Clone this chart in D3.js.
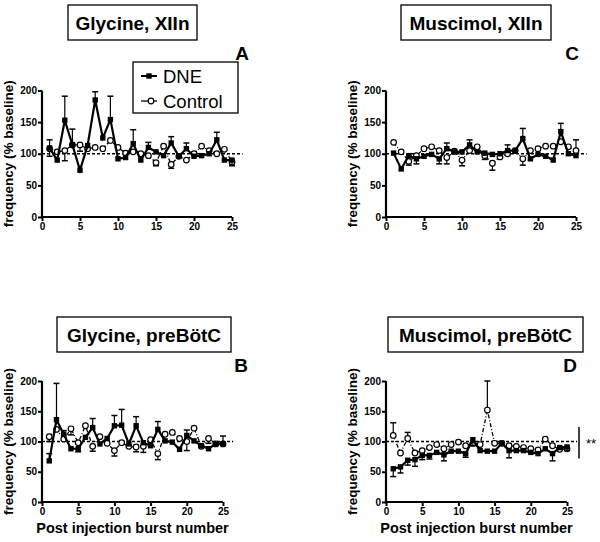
<!DOCTYPE html>
<html><head><meta charset="utf-8">
<script src="https://cdn.jsdelivr.net/npm/d3@7"></script>
<style>body{margin:0;background:#fff}svg{display:block}</style>
</head><body>
<svg id="c" width="600" height="542"></svg>
<script>
const bursts = [1,2,3,4,5,6,7,8,9,10,11,12,13,14,15,16,17,18,19,20,21,22,23,24,25];
const yTicks = [0,50,100,150,200];
const xTicks = [0,5,10,15,20,25];
const seriesNames = ["DNE","Control"];

// Panel A: Glycine, XIIn
const dneA    = [109,90,153,114,74,113,185,125,154,92,94,116,90,110,103,97,117,96,108,96,97,100,122,90,90];
const dneAErr = [13,0,38,25,0,0,13,0,37,0,0,22,0,8,0,0,10,0,9,0,0,0,12,0,-8];
const ctlA    = [108,103,105,114,114,108,110,108,121,110,101,103,100,97,86,112,83,96,90,100,112,105,100,107,87];
const ctlAErr = [-12,0,-16,0,-10,0,0,0,0,0,0,0,0,0,-5,0,-6,0,0,0,0,0,0,0,-6];
// Panel B: Glycine, preBötC
const dneB    = [68,136,112,88,88,107,123,96,105,126,127,96,126,98,93,120,101,99,87,110,101,93,88,96,96];
const dneBErr = [12,60,6,0,-5,0,15,0,0,17,26,0,15,0,0,13,0,0,0,9,0,0,0,0,13];
const ctlB    = [108,120,104,121,98,126,92,108,97,85,98,92,91,92,103,80,112,115,105,100,122,92,105,96,96];
const ctlBErr = [-8,0,0,-10,0,0,-8,0,0,-9,0,0,-8,-10,0,-10,0,0,0,-15,0,0,-8,0,0];
// Panel C: Muscimol, XIIn
const dneC    = [101,76,97,92,96,99,92,108,103,103,114,103,101,99,100,105,105,124,92,99,96,90,135,100,97];
const dneCErr = [0,0,0,-8,0,0,-8,9,0,0,8,0,0,0,0,9,0,16,0,0,0,0,13,0,0];
const ctlC    = [118,103,88,97,108,111,105,94,104,90,105,111,97,85,95,100,105,92,105,108,112,112,119,111,105];
const ctlCErr = [0,0,-6,0,0,0,0,-10,0,-9,0,0,-6,-11,0,0,0,-10,0,0,0,0,0,0,17];
// Panel D: Muscimol, preBötC
const dneD    = [55,58,69,70,77,77,82,78,84,84,80,103,85,84,84,97,85,85,85,82,80,88,80,90,91];
const dneDErr = [-13,-10,-8,-11,-7,-6,0,-10,0,0,-6,-10,0,0,0,0,-12,0,0,0,0,0,-12,0,-6];
const ctlD    = [110,81,105,81,85,90,95,88,95,99,93,97,95,152,97,97,93,92,90,88,86,104,93,87,88];
const ctlDErr = [21,0,10,0,0,0,0,0,0,0,0,0,0,48,0,0,0,0,0,0,0,0,0,0,0];

const panels = [
  {title:"Glycine, XIIn", letter:"A", dne:dneA, dneErr:dneAErr, ctl:ctlA, ctlErr:ctlAErr,
   xr:[42,232], yr:[217,90.5], box:[68,5,129,35], letterPos:[242,60], legend:true, xTitle:false},
  {title:"Glycine, preBötC", letter:"B", dne:dneB, dneErr:dneBErr, ctl:ctlB, ctlErr:ctlBErr,
   xr:[42,223], yr:[502,381], box:[57,317,174,35], letterPos:[241,372], xTitle:true},
  {title:"Muscimol, XIIn", letter:"C", dne:dneC, dneErr:dneCErr, ctl:ctlC, ctlErr:ctlCErr,
   xr:[386,576], yr:[217,90.5], box:[401,5,150,35], letterPos:[572,60], xTitle:false},
  {title:"Muscimol, preBötC", letter:"D", dne:dneD, dneErr:dneDErr, ctl:ctlD, ctlErr:ctlDErr,
   xr:[386,567], yr:[502,381], box:[388,317,195,35], letterPos:[570,372], xTitle:true, sig:"**"}
];

const FONT = "Arial, 'Liberation Sans', Helvetica, sans-serif";
const svg = d3.select("#c");

panels.forEach(p => {
  const g = svg.append("g");
  const x = d3.scaleLinear().domain([0,25]).range(p.xr);
  const y = d3.scaleLinear().domain([0,200]).range(p.yr);

  // title box
  g.append("rect").attr("x",p.box[0]).attr("y",p.box[1]).attr("width",p.box[2]).attr("height",p.box[3])
    .attr("fill","#fff").attr("stroke","#000").attr("stroke-width",1.3);
  g.append("text").attr("x",p.box[0]+p.box[2]/2).attr("y",p.box[1]+p.box[3]/2+7)
    .attr("text-anchor","middle").attr("font-family",FONT).attr("font-weight","bold")
    .attr("font-size",19).text(p.title);
  g.append("text").attr("x",p.letterPos[0]).attr("y",p.letterPos[1]).attr("text-anchor","middle")
    .attr("font-family",FONT).attr("font-weight","bold").attr("font-size",19).text(p.letter);

  // axes
  const yAx = g.append("g").attr("transform",`translate(${p.xr[0]},0)`)
    .call(d3.axisLeft(y).tickValues(yTicks).tickSize(4).tickPadding(1).tickFormat(d3.format("d")));
  const xAx = g.append("g").attr("transform",`translate(0,${p.yr[0]})`)
    .call(d3.axisBottom(x).tickValues(xTicks).tickSize(4).tickPadding(2).tickFormat(d3.format("d")));
  [yAx,xAx].forEach(a => {
    a.select(".domain").attr("stroke","#000").attr("stroke-width",2.2);
    a.selectAll(".tick line").attr("stroke","#000").attr("stroke-width",2);
    a.selectAll(".tick text").attr("font-family",FONT).attr("font-weight","bold").attr("font-size",10).attr("fill","#000");
  });
  yAx.select(".domain").attr("d",`M0,${p.yr[0]}V${p.yr[1]}`);
  xAx.select(".domain").attr("d",`M${p.xr[0]},0H${p.xr[1]}`);

  // y label
  const yMid = (p.yr[0]+p.yr[1])/2;
  g.append("text").attr("transform",`translate(${p.xr[0]-29},${yMid}) rotate(-90)`)
    .attr("text-anchor","middle").attr("font-family",FONT).attr("font-weight","bold")
    .attr("font-size",13.5).text("frequency (% baseline)");
  if (p.xTitle) {
    g.append("text").attr("x",(p.xr[0]+p.xr[1])/2).attr("y",p.yr[0]+31)
      .attr("text-anchor","middle").attr("font-family",FONT).attr("font-weight","bold")
      .attr("font-size",14.5).text("Post injection burst number");
  }

  // reference line at 100
  g.append("line").attr("x1",x(0)).attr("x2",x(26.4)).attr("y1",y(100)).attr("y2",y(100))
    .attr("stroke","#000").attr("stroke-width",1.3).attr("stroke-dasharray","3,2");

  const drawSeries = (vals, errs, filled) => {
    const pts = bursts.map((b,i)=>({b, v:vals[i], e:errs[i]}));
    pts.filter(d=>d.e!==0).forEach(d => {
      const y1 = y(d.v), y2 = y(d.v+d.e);
      g.append("line").attr("x1",x(d.b)).attr("x2",x(d.b)).attr("y1",y1).attr("y2",y2)
        .attr("stroke","#000").attr("stroke-width",1.2);
      g.append("line").attr("x1",x(d.b)-3).attr("x2",x(d.b)+3).attr("y1",y2).attr("y2",y2)
        .attr("stroke","#000").attr("stroke-width",1.5);
    });
    const line = d3.line().x(d=>x(d.b)).y(d=>y(d.v));
    g.append("path").datum(pts).attr("d",line).attr("fill","none").attr("stroke","#000")
      .attr("stroke-width", filled?2.2:1.3).attr("stroke-dasharray", filled?null:"4,2,1,2");
    if (filled) {
      g.selectAll(null).data(pts).enter().append("rect")
        .attr("x",d=>x(d.b)-2.7).attr("y",d=>y(d.v)-2.7).attr("width",5.4).attr("height",5.4).attr("fill","#000");
    } else {
      g.selectAll(null).data(pts).enter().append("circle")
        .attr("cx",d=>x(d.b)).attr("cy",d=>y(d.v)).attr("r",2.8)
        .attr("fill","#fff").attr("stroke","#000").attr("stroke-width",1.2);
    }
  };
  drawSeries(p.ctl, p.ctlErr, false);
  drawSeries(p.dne, p.dneErr, true);

  if (p.sig) {
    g.append("line").attr("x1",579).attr("x2",579).attr("y1",y(124)).attr("y2",y(72))
      .attr("stroke","#000").attr("stroke-width",1.5);
    g.append("text").attr("x",586).attr("y",y(98)+5).attr("font-family",FONT).attr("font-size",13).text(p.sig);
  }

  if (p.legend) {
    const lg = g.append("g");
    lg.append("rect").attr("x",133).attr("y",62).attr("width",105).attr("height",51)
      .attr("fill","#fff").attr("stroke","#000").attr("stroke-width",1.3);
    const rows = [{n:seriesNames[0], yy:76, filled:true},{n:seriesNames[1], yy:101, filled:false}];
    rows.forEach(r => {
      lg.append("line").attr("x1",141).attr("x2",157).attr("y1",r.yy).attr("y2",r.yy)
        .attr("stroke","#000").attr("stroke-width",r.filled?2:1.3);
      if (r.filled) lg.append("rect").attr("x",146.3).attr("y",r.yy-2.7).attr("width",5.4).attr("height",5.4).attr("fill","#000");
      else lg.append("circle").attr("cx",151).attr("cy",r.yy).attr("r",2.8).attr("fill","#fff").attr("stroke","#000").attr("stroke-width",1.2);
      lg.append("text").attr("x",163).attr("y",r.yy+6.5).attr("font-family",FONT).attr("font-size",18.5).text(r.n);
    });
  }
});
</script>
</body></html>
